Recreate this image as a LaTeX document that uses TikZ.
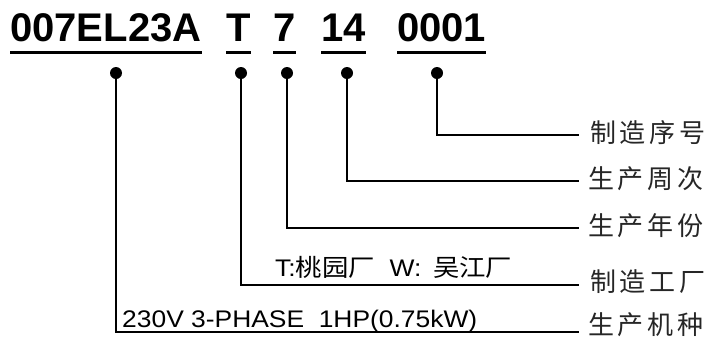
\documentclass[tikz,border=0pt]{standalone}
\usepackage{fontspec}
\setmainfont{Liberation Sans}
\newfontfamily\cjk[LetterSpace=14]{Noto Sans CJK SC}
\newfontfamily\cjkplain{Noto Sans CJK SC}
\usetikzlibrary{positioning}

\begin{document}
\begin{tikzpicture}[x=1pt, y=-1pt,
  code/.style={inner sep=0, anchor=base west, font=\fontsize{40}{40}\selectfont\bfseries},
  uline/.style={line width=3pt},
  lead/.style={line width=1.6pt},
  tag/.style={inner sep=0, anchor=west, font=\fontsize{26}{26}\selectfont\cjk, text=black!85},
  note/.style={inner sep=0, anchor=base west, xscale=1.1, transform shape, font=\fontsize{24}{24}\selectfont}]
\useasboundingbox (0,0) rectangle (718,338);
% code fields
\node[code] (model) at (10,41) {007EL23A};
\node[code] (plant) at (226,41) {T};
\node[code] (year) at (273,41) {7};
\node[code] (week) at (321,41) {14};
\node[code] (serial) at (397,41) {0001};
\foreach \n in {model,plant,year,week,serial}
  {\draw[uline] (\n.west |- 0,52) -- (\n.east |- 0,52);}
% dots
\coordinate (dmodel) at (116,73);
\coordinate (dplant) at (241,73);
\coordinate (dyear) at (287,73);
\coordinate (dweek) at (347,73);
\coordinate (dserial) at (437,73);
\foreach \n in {dmodel,dplant,dyear,dweek,dserial}
  {\fill (\n) circle (6pt);}
% labels
\coordinate (eserial) at (579,135);
\coordinate (eweek) at (579,181);
\coordinate (eyear) at (579,228);
\coordinate (eplant) at (579,285);
\coordinate (emodel) at (579,332);
\node[tag] (lserial) at (590,133) {制造序号};
\node[tag] (lweek) at (588,179) {生产周次};
\node[tag] (lyear) at (588,226) {生产年份};
\node[tag] (lplant) at (590,282) {制造工厂};
\node[tag] (lmodel) at (588,325) {生产机种};
\foreach \n in {model,plant,year,week,serial}
  {\draw[lead] (d\n) |- (e\n);}
% notes
\node[note] (nplant) at (275,276) {T:{\cjkplain 桃园厂}\ \ W:\ \,{\cjkplain 吴江厂}};
\node[note] (nmodel) at (122,327) {230V 3-PHASE\ \ 1HP(0.75kW)};
\end{tikzpicture}
\end{document}
